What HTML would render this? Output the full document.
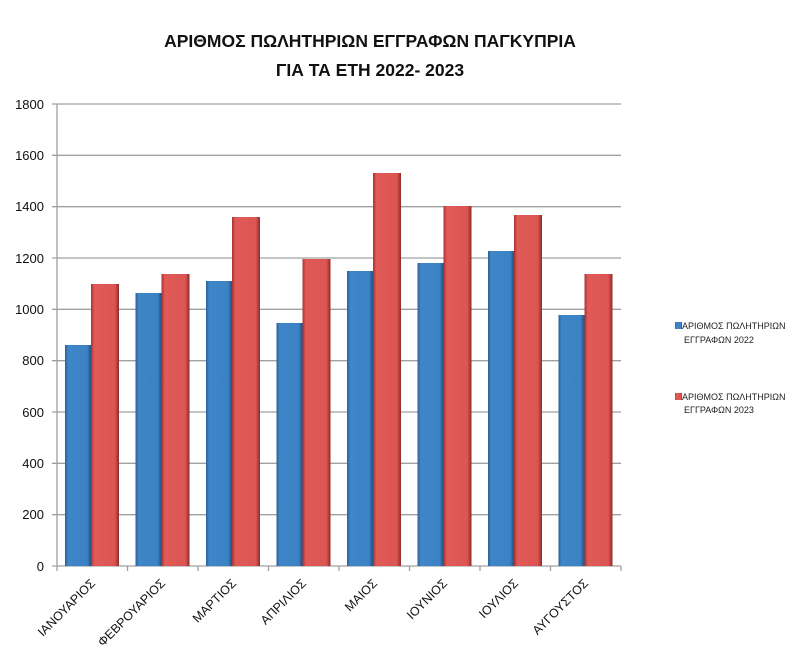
<!DOCTYPE html>
<html><head><meta charset="utf-8"><style>
body{margin:0;background:#fff;}
svg{display:block;font-family:"Liberation Sans","DejaVu Sans",sans-serif;}
</style></head><body>
<svg width="800" height="661" viewBox="0 0 800 661" xmlns="http://www.w3.org/2000/svg">
<defs>
<linearGradient id="gb" x1="0" x2="1" y1="0" y2="0">
<stop offset="0" stop-color="#2a5f95"/><stop offset="0.12" stop-color="#3f86c8"/><stop offset="0.85" stop-color="#3b82c4"/><stop offset="1" stop-color="#23507e"/></linearGradient>
<linearGradient id="gr" x1="0" x2="1" y1="0" y2="0">
<stop offset="0" stop-color="#a83333"/><stop offset="0.12" stop-color="#e05a57"/><stop offset="0.85" stop-color="#dc5552"/><stop offset="1" stop-color="#8e2a2a"/></linearGradient>
</defs>
<rect width="800" height="661" fill="#fff"/>
<text x="370" y="47" text-anchor="middle" font-size="17.5" font-weight="bold" fill="#111">ΑΡΙΘΜΟΣ ΠΩΛΗΤΗΡΙΩΝ ΕΓΓΡΑΦΩΝ ΠΑΓΚΥΠΡΙΑ</text>
<text x="370" y="76" text-anchor="middle" font-size="17.5" font-weight="bold" fill="#111">ΓΙΑ ΤΑ ΕΤΗ 2022- 2023</text>
<g stroke="#a0a0a0" stroke-width="1.3">
<line x1="52" x2="621" y1="104" y2="104"/><line x1="52" x2="621" y1="155.3" y2="155.3"/><line x1="52" x2="621" y1="206.7" y2="206.7"/><line x1="52" x2="621" y1="258" y2="258"/><line x1="52" x2="621" y1="309.3" y2="309.3"/><line x1="52" x2="621" y1="360.7" y2="360.7"/><line x1="52" x2="621" y1="412" y2="412"/><line x1="52" x2="621" y1="463.3" y2="463.3"/><line x1="52" x2="621" y1="514.7" y2="514.7"/><line x1="52" x2="621" y1="566" y2="566"/>
<line x1="57" x2="57" y1="104" y2="571"/>
<line x1="127.5" x2="127.5" y1="566" y2="571"/><line x1="198" x2="198" y1="566" y2="571"/><line x1="268.5" x2="268.5" y1="566" y2="571"/><line x1="339" x2="339" y1="566" y2="571"/><line x1="409.5" x2="409.5" y1="566" y2="571"/><line x1="480" x2="480" y1="566" y2="571"/><line x1="550.5" x2="550.5" y1="566" y2="571"/><line x1="621" x2="621" y1="566" y2="571"/>
</g>
<g font-size="13" fill="#111" text-anchor="end">
<text x="44" y="109">1800</text><text x="44" y="160">1600</text><text x="44" y="211">1400</text><text x="44" y="263">1200</text><text x="44" y="314">1000</text><text x="44" y="365">800</text><text x="44" y="417">600</text><text x="44" y="468">400</text><text x="44" y="519">200</text><text x="44" y="571">0</text>
</g>
<g id="bars">
<rect x="65" y="345" width="26" height="221" fill="url(#gb)"/><rect x="91" y="284" width="28" height="282" fill="url(#gr)"/>
<rect x="135.5" y="293" width="26" height="273" fill="url(#gb)"/><rect x="161.5" y="274" width="28" height="292" fill="url(#gr)"/>
<rect x="206" y="281" width="26" height="285" fill="url(#gb)"/><rect x="232" y="217" width="28" height="349" fill="url(#gr)"/>
<rect x="276.5" y="323" width="26" height="243" fill="url(#gb)"/><rect x="302.5" y="259" width="28" height="307" fill="url(#gr)"/>
<rect x="347" y="271" width="26" height="295" fill="url(#gb)"/><rect x="373" y="173" width="28" height="393" fill="url(#gr)"/>
<rect x="417.5" y="263" width="26" height="303" fill="url(#gb)"/><rect x="443.5" y="206" width="28" height="360" fill="url(#gr)"/>
<rect x="488" y="251" width="26" height="315" fill="url(#gb)"/><rect x="514" y="215" width="28" height="351" fill="url(#gr)"/>
<rect x="558.5" y="315" width="26" height="251" fill="url(#gb)"/><rect x="584.5" y="274" width="28" height="292" fill="url(#gr)"/>
</g>
<g font-size="12.5" fill="#111" text-anchor="end">
<text transform="translate(96,584) rotate(-45)">ΙΑΝΟΥΑΡΙΟΣ</text>
<text transform="translate(166,584) rotate(-45)">ΦΕΒΡΟΥΑΡΙΟΣ</text>
<text transform="translate(237,584) rotate(-45)">ΜΑΡΤΙΟΣ</text>
<text transform="translate(307,584) rotate(-45)">ΑΠΡΙΛΙΟΣ</text>
<text transform="translate(378,584) rotate(-45)">ΜΑΙΟΣ</text>
<text transform="translate(448,584) rotate(-45)">ΙΟΥΝΙΟΣ</text>
<text transform="translate(519,584) rotate(-45)">ΙΟΥΛΙΟΣ</text>
<text transform="translate(589,584) rotate(-45)">ΑΥΓΟΥΣΤΟΣ</text>
</g>
<rect x="675" y="322" width="7" height="7" fill="url(#gb)"/>
<rect x="675" y="393" width="7" height="7" fill="url(#gr)"/>
<g font-size="9" fill="#222">
<text x="682" y="329">ΑΡΙΘΜΟΣ ΠΩΛΗΤΗΡΙΩΝ</text><text x="684" y="343">ΕΓΓΡΑΦΩΝ 2022</text>
<text x="682" y="400">ΑΡΙΘΜΟΣ ΠΩΛΗΤΗΡΙΩΝ</text><text x="684" y="413">ΕΓΓΡΑΦΩΝ 2023</text>
</g>
</svg>
</body></html>
